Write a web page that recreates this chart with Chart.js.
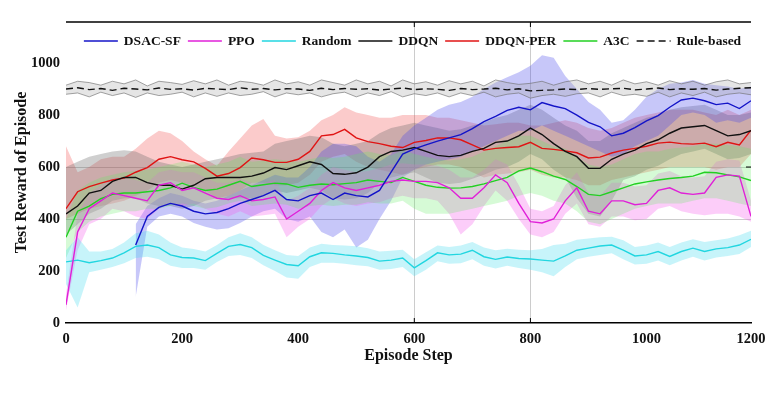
<!DOCTYPE html>
<html><head><meta charset="utf-8">
<script src="https://cdn.jsdelivr.net/npm/chart.js@4.4.1/dist/chart.umd.min.js"></script>
<style>html,body{margin:0;padding:0;background:#fff;}#wrap{width:782px;height:394px;}</style>
</head><body><div id="wrap"><canvas id="c" width="782" height="394"></canvas></div>
<script>
// ---------- data ----------
const episodeSteps = [0,20,40,60,80,100,120,140,160,180,200,220,240,260,280,300,320,340,360,380,400,420,440,460,480,500,520,540,560,580,600,620,640,660,680,700,720,740,760,780,800,820,840,860,880,900,920,940,960,980,1000,1020,1040,1060,1080,1100,1120,1140,1160,1180];
const xTickValues = [0,200,400,600,800,1000,1180];
const xTickLabels = ['0','200','400','600','800','1000','1200'];
const yTickValues = [0,200,400,600,800,1000];

const seriesNames = ['DSAC-SF','PPO','Random','DDQN','DDQN-PER','A3C','Rule-based'];

const dsacMean = [null,null,null,null,null,null,300,410,445,460,450,430,420,425,440,460,475,490,510,475,470,490,500,475,500,490,485,510,580,650,670,685,700,712,725,748,775,795,818,830,820,848,835,825,800,772,755,720,730,752,778,798,830,858,865,855,840,846,825,855];
const dsacUpper = [null,null,null,null,null,null,380,450,480,500,490,470,460,470,490,510,530,550,570,560,560,600,660,690,690,680,640,620,650,720,760,790,820,840,850,870,900,925,945,965,990,1030,1020,950,900,850,820,770,780,820,870,900,920,925,935,920,915,910,900,910];
const dsacLower = [null,null,null,null,null,null,100,370,410,420,410,385,370,360,365,385,410,430,440,400,390,410,350,330,360,290,320,400,470,560,590,610,620,630,640,660,680,700,720,740,740,760,740,720,700,680,660,640,650,680,700,720,760,800,810,800,770,780,770,790];

const ppoMean = [70,350,440,470,500,490,480,470,530,540,510,520,500,480,475,490,470,475,485,400,430,460,510,540,520,510,520,530,545,550,545,545,540,520,480,480,520,570,540,460,390,385,400,470,520,430,420,470,470,455,460,510,520,500,495,500,560,570,565,410];
const ppoUpper = [110,420,500,530,560,560,550,540,580,590,580,580,560,540,540,555,540,540,550,470,490,520,570,600,590,580,585,595,610,615,610,610,605,590,560,560,590,630,610,530,440,430,450,530,580,500,490,540,540,525,530,575,585,565,560,565,620,630,625,470];
const ppoLower = [50,280,380,400,440,430,410,400,440,460,450,460,440,420,410,430,410,415,420,330,370,400,450,480,460,450,460,465,480,490,480,480,470,420,340,380,450,510,470,400,340,330,350,420,460,380,370,410,410,395,400,440,450,430,420,415,420,420,410,390];

const randomMean = [235,242,232,240,250,270,295,300,290,262,252,250,240,268,295,302,290,260,242,225,220,255,270,268,262,258,252,238,242,250,212,240,270,262,265,280,255,245,254,248,246,242,238,258,280,288,296,300,280,258,262,275,256,275,288,275,285,290,300,322];
const randomUpper = [280,330,275,275,285,310,345,355,340,310,290,285,275,300,330,345,330,300,280,262,258,290,305,300,298,295,288,275,278,282,245,272,298,292,298,312,290,280,286,282,280,285,300,305,320,325,330,332,318,292,298,310,292,310,322,312,318,325,338,355];
const randomLower = [150,60,195,205,215,230,250,255,245,220,212,212,205,235,258,262,250,222,200,175,170,215,232,232,228,222,218,205,208,215,180,205,238,228,230,245,220,210,220,212,205,195,180,215,245,255,262,268,245,225,228,240,222,240,255,240,252,258,265,292];

const ddqnMean = [420,450,500,510,545,560,560,540,530,530,515,530,555,560,560,560,565,577,598,590,605,620,610,575,572,578,600,640,660,665,675,660,645,640,645,660,672,695,700,720,750,725,690,660,640,595,595,630,650,665,690,705,730,750,755,760,740,720,725,740];
const ddqnUpper = [600,620,640,650,660,665,660,640,620,610,600,610,620,630,640,650,655,660,690,700,710,720,715,690,680,690,700,730,750,760,770,760,750,740,745,760,770,790,800,820,840,820,790,760,740,700,700,730,750,770,790,800,820,830,835,840,820,800,800,810];
const ddqnLower = [340,380,420,440,470,480,480,460,450,450,440,450,470,480,480,480,480,490,510,500,510,520,510,480,475,480,500,540,560,570,580,560,540,535,540,555,570,590,600,620,650,630,590,560,480,420,410,470,550,565,590,605,630,650,660,670,650,630,635,650];

const perMean = [440,505,525,538,550,558,580,598,630,640,628,620,595,565,575,598,635,628,618,618,630,660,720,725,745,712,698,690,680,675,695,702,712,712,705,685,665,672,675,678,695,672,668,662,655,635,638,654,665,672,680,692,696,690,688,692,678,695,685,742];
const perUpper = [680,580,600,630,640,640,670,710,740,730,700,660,630,605,660,710,760,785,720,710,715,740,780,800,830,810,800,790,790,800,800,800,790,790,780,770,760,765,770,770,760,760,770,780,770,750,740,750,770,790,800,810,820,820,820,810,800,820,800,820];
const perLower = [400,420,440,450,460,470,490,510,540,550,540,530,510,480,490,510,540,540,530,530,540,570,620,640,650,620,600,590,580,570,590,600,610,610,600,580,560,570,575,580,590,570,560,560,550,530,530,550,560,570,580,590,600,600,600,600,590,600,600,650];

const a3cMean = [330,430,450,478,495,500,500,505,510,520,538,522,510,515,530,545,525,532,538,535,522,530,535,532,536,540,550,545,540,560,545,530,522,519,520,525,535,548,560,585,596,582,565,552,525,495,490,505,520,535,543,550,556,560,565,580,578,570,562,548];
const a3cUpper = [400,510,540,560,570,580,585,590,600,610,620,610,600,610,620,640,620,625,630,625,620,630,640,635,640,650,660,650,645,665,650,640,630,625,630,640,660,680,700,720,720,700,680,670,640,610,600,610,630,650,660,660,670,675,680,690,690,685,680,670];
const a3cLower = [250,350,390,410,420,430,430,440,440,450,460,450,440,445,460,470,450,455,460,455,440,450,455,450,455,455,465,460,460,470,440,420,420,420,430,440,450,460,470,490,500,490,470,460,430,390,380,400,420,440,450,460,460,460,470,480,480,470,460,450];

const ruleMean = [900,905,898,902,895,903,900,897,904,899,901,896,903,900,898,905,899,902,897,901,900,895,903,898,902,899,901,896,900,904,898,901,899,895,902,898,900,903,897,901,893,895,897,900,898,902,899,901,903,897,900,904,898,901,899,902,896,900,903,905];
const ruleUpper = [915,930,925,915,930,920,935,912,930,925,918,932,920,935,915,930,925,915,935,920,928,915,935,925,915,935,920,930,912,935,920,928,915,932,920,930,912,935,925,918,922,930,915,928,935,920,930,915,935,920,928,915,932,920,930,915,928,935,920,925];
const ruleLower = [880,885,870,888,875,885,868,885,875,880,888,870,885,872,885,875,880,890,870,885,878,885,870,882,888,870,885,875,890,870,882,875,885,870,885,875,888,870,880,885,865,875,880,872,882,885,870,888,875,880,872,888,870,885,875,888,870,880,885,878];

// ---------- styles ----------
const styles = {
  'DSAC-SF':   {line:'#1414c8', band:'rgba(70,70,235,0.30)'},
  'PPO':       {line:'#e020d8', band:'rgba(245,90,235,0.30)'},
  'Random':    {line:'#22d6e0', band:'rgba(70,220,240,0.30)'},
  'DDQN':      {line:'#111111', band:'rgba(95,95,95,0.30)'},
  'DDQN-PER':  {line:'#e01414', band:'rgba(240,70,70,0.28)'},
  'A3C':       {line:'#22d022', band:'rgba(90,235,90,0.25)'},
  'Rule-based':{line:'#111111', band:'rgba(170,170,170,0.30)', dash:[7,4], edge:'rgba(110,110,110,0.8)'}
};
const seriesData = {
  'DSAC-SF':[dsacMean,dsacUpper,dsacLower],
  'PPO':[ppoMean,ppoUpper,ppoLower],
  'Random':[randomMean,randomUpper,randomLower],
  'DDQN':[ddqnMean,ddqnUpper,ddqnLower],
  'DDQN-PER':[perMean,perUpper,perLower],
  'A3C':[a3cMean,a3cUpper,a3cLower],
  'Rule-based':[ruleMean,ruleUpper,ruleLower]
};
const pts = arr => episodeSteps.map((x,i)=>({x:x,y:arr[i]}));

const datasets = [];
const bandOrder = ['Rule-based','Random','A3C','PPO','DSAC-SF','DDQN','DDQN-PER'];
seriesNames.forEach(n=>{
  const s = styles[n];
  datasets.push({label:n, data:pts(seriesData[n][0]), borderColor:s.line, backgroundColor:s.line,
    borderWidth:1.4, borderDash:s.dash||[], pointRadius:0, fill:false, tension:0, order:0});
});
bandOrder.forEach((n)=>{
  const s = styles[n];
  datasets.push({label:n+' max', data:pts(seriesData[n][1]), borderColor:s.edge||'rgba(0,0,0,0)',
    borderWidth:s.edge?0.8:0, pointRadius:0, fill:false, tension:0, order:10});
  datasets.push({label:n+' min', data:pts(seriesData[n][2]), borderColor:s.edge||'rgba(0,0,0,0)',
    borderWidth:s.edge?0.8:0, pointRadius:0, fill:'-1', backgroundColor:s.band, tension:0, order:10});
});

const FONT = "'Liberation Serif','Times New Roman',serif";

// frame + inner legend
const frame = {
  id:'frame',
  afterDatasetsDraw(chart){
    const {ctx, chartArea:a, scales} = chart;
    ctx.save();
    ctx.strokeStyle = '#000'; ctx.lineWidth = 1.3;
    ctx.beginPath(); ctx.moveTo(a.left, a.top); ctx.lineTo(a.right, a.top); ctx.stroke();
    ctx.lineWidth = 1;
    [600,800].forEach(v=>{
      const px = scales.x.getPixelForValue(v);
      ctx.beginPath(); ctx.moveTo(px, a.top); ctx.lineTo(px, a.top+5); ctx.stroke();
      ctx.beginPath(); ctx.moveTo(px, a.bottom); ctx.lineTo(px, a.bottom-5); ctx.stroke();
    });
    const py = scales.y.getPixelForValue(600);
    ctx.beginPath(); ctx.moveTo(a.right, py); ctx.lineTo(a.right-5, py); ctx.stroke();

    // legend inside the plot box, one row
    const lineLen = 34, gapText = 6, gapItem = 7;
    ctx.font = "bold 13.5px " + FONT;
    const items = chart.data.datasets.filter(d=>seriesNames.includes(d.label));
    let total = 0;
    items.forEach((d,i)=>{ total += lineLen + gapText + ctx.measureText(d.label).width + (i<items.length-1?gapItem:0); });
    let x = (a.left + a.right)/2 + 4 - total/2;
    const y = a.top + 19;
    ctx.textBaseline = 'middle'; ctx.textAlign = 'left'; ctx.fillStyle = '#111';
    items.forEach(d=>{
      ctx.strokeStyle = d.borderColor; ctx.lineWidth = 1.5;
      ctx.setLineDash(d.borderDash||[]);
      ctx.beginPath(); ctx.moveTo(x, y); ctx.lineTo(x+lineLen, y); ctx.stroke();
      ctx.setLineDash([]);
      x += lineLen + gapText;
      ctx.fillText(d.label, x, y+0.5);
      x += ctx.measureText(d.label).width + gapItem;
    });
    ctx.restore();
  }
};

new Chart(document.getElementById('c'), {
  type:'line',
  data:{datasets},
  plugins:[frame],
  options:{
    responsive:false, animation:false, devicePixelRatio:1,
    layout:{padding:{left:0,right:31,top:22,bottom:21}},
    plugins:{
      filler:{drawTime:'beforeDatasetsDraw'},
      tooltip:{enabled:false},
      legend:{display:false}
    },
    scales:{
      x:{
        type:'linear', min:0, max:1180,
        afterBuildTicks:(sc)=>{ sc.ticks = xTickValues.map(v=>({value:v})); },
        afterFit:(sc)=>{ sc.height = 50; },
        ticks:{autoSkip:false, maxRotation:0, padding:8, color:'#111',
          font:{family:FONT, size:14.5, weight:'bold'},
          callback:(v,i)=>xTickLabels[i]},
        grid:{drawTicks:false, lineWidth:1,
          color:(c)=> (c.tick && (c.tick.value===600||c.tick.value===800)) ? '#cccccc' : 'rgba(0,0,0,0)'},
        border:{display:true, color:'#000', width:1.5},
        title:{display:true, text:'Episode Step', color:'#111',
          font:{family:FONT, size:16, weight:'bold'}, padding:{top:0,bottom:8}}
      },
      y:{
        min:0, max:1158,
        afterBuildTicks:(sc)=>{ sc.ticks = yTickValues.map(v=>({value:v})); },
        afterFit:(sc)=>{ sc.width = 66; },
        ticks:{padding:6, color:'#111', font:{family:FONT, size:14.5, weight:'bold'},
          callback:(v)=>String(v)},
        grid:{drawTicks:false, lineWidth:1,
          color:(c)=> (c.tick && (c.tick.value===400||c.tick.value===600)) ? '#cccccc' : 'rgba(0,0,0,0)'},
        border:{display:false},
        title:{display:true, text:'Test Reward of Episode', color:'#111',
          font:{family:FONT, size:16, weight:'bold'}, padding:{top:12,bottom:0}}
      }
    }
  }
});
</script></body></html>
